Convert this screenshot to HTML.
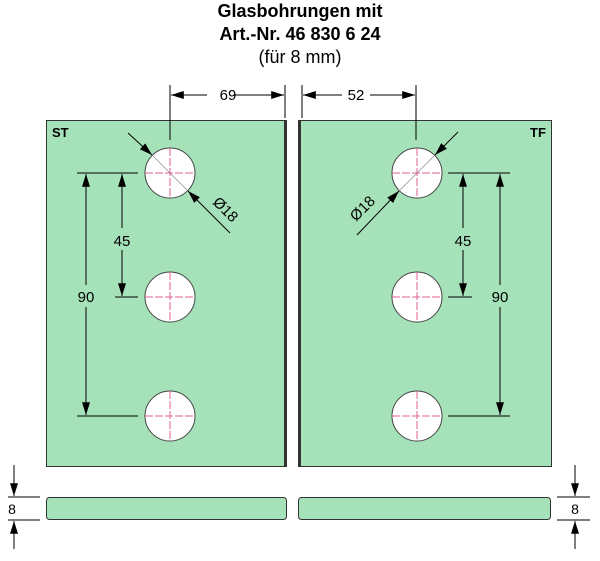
<!DOCTYPE html>
<html><head><meta charset="utf-8"><style>
body{margin:0;background:#fff}
svg{display:block;font-family:"Liberation Sans",Arial,sans-serif}
</style></head><body>
<svg width="600" height="561" viewBox="0 0 600 561" xmlns="http://www.w3.org/2000/svg">
<defs>
<marker id="b" viewBox="0 0 16 10" refX="16" refY="5" markerWidth="16" markerHeight="8" orient="auto-start-reverse" markerUnits="userSpaceOnUse"><path d="M0,0 L16,5 L0,10z" fill="#000"/></marker>
</defs>
<text x="300" y="17" text-anchor="middle" font-size="18" font-weight="bold">Glasbohrungen mit</text>
<text x="300" y="40" text-anchor="middle" font-size="18" font-weight="bold">Art.-Nr. 46 830 6 24</text>
<text x="300" y="63" text-anchor="middle" font-size="18">(für 8 mm)</text>
<rect x="46.5" y="120.5" width="240" height="346" fill="#a6e2b9" stroke="#333" stroke-width="1"/>
<line x1="285" y1="121" x2="285" y2="466" stroke="#333" stroke-width="2"/>
<rect x="298.5" y="120.5" width="253" height="346" fill="#a6e2b9" stroke="#333" stroke-width="1"/>
<line x1="300" y1="121" x2="300" y2="466" stroke="#333" stroke-width="2"/>
<text x="52" y="137" font-size="13" font-weight="bold">ST</text>
<text x="530" y="137" font-size="13" font-weight="bold">TF</text>
<g stroke="#444" fill="#fff" stroke-width="1">
<circle cx="170" cy="173" r="25"/><circle cx="170" cy="297" r="25"/><circle cx="170" cy="416" r="25"/>
<circle cx="417" cy="173" r="25"/><circle cx="417" cy="297" r="25"/><circle cx="417" cy="416" r="25"/>
</g>
<g stroke="#e0609a" stroke-width="1" stroke-dasharray="8,2">
<path d="M145 173H195M170 148V198M145 297H195M170 272V322M145 416H195M170 391V441"/>
<path d="M392 173H442M417 148V198M392 297H442M417 272V322M392 416H442M417 391V441"/>
</g>
<g stroke="#000" stroke-width="1" fill="none">
<path d="M170 85V140M285 85V118M302 85V118M416 85V140"/>
<line x1="171" y1="95" x2="207" y2="95" marker-start="url(#b)"/>
<line x1="233" y1="95" x2="284" y2="95" marker-end="url(#b)"/>
<line x1="303" y1="95" x2="342" y2="95" marker-start="url(#b)"/>
<line x1="370" y1="95" x2="415" y2="95" marker-end="url(#b)"/>
<path d="M77 173H138M115 297H138M77 416H138"/>
<line x1="122" y1="174" x2="122" y2="228" marker-start="url(#b)"/>
<line x1="122" y1="250" x2="122" y2="296" marker-end="url(#b)"/>
<line x1="86" y1="174" x2="86" y2="285" marker-start="url(#b)"/>
<line x1="86" y1="307" x2="86" y2="415" marker-end="url(#b)"/>
<path d="M448 173H510M448 297H472M448 416H510"/>
<line x1="463" y1="174" x2="463" y2="228" marker-start="url(#b)"/>
<line x1="463" y1="250" x2="463" y2="296" marker-end="url(#b)"/>
<line x1="500" y1="174" x2="500" y2="285" marker-start="url(#b)"/>
<line x1="500" y1="307" x2="500" y2="415" marker-end="url(#b)"/>
<line x1="128" y1="133" x2="152" y2="155" marker-end="url(#b)"/>
<line x1="230" y1="233" x2="188" y2="191" marker-end="url(#b)"/>
<line x1="152" y1="155" x2="188" y2="191" stroke="#888" stroke-width="0.7"/>
<line x1="458" y1="132" x2="435" y2="155" marker-end="url(#b)"/>
<line x1="357" y1="235" x2="399" y2="191" marker-end="url(#b)"/>
<line x1="435" y1="155" x2="399" y2="191" stroke="#888" stroke-width="0.7"/>
</g>
<g font-size="15">
<text x="228" y="100" text-anchor="middle">69</text>
<text x="356" y="100" text-anchor="middle">52</text>
<text x="122" y="246" text-anchor="middle">45</text>
<text x="86" y="302" text-anchor="middle">90</text>
<text x="463" y="246" text-anchor="middle">45</text>
<text x="500" y="302" text-anchor="middle">90</text>
<text transform="translate(222,213) rotate(45)" text-anchor="middle">Ø18</text>
<text transform="translate(366,212) rotate(-45)" text-anchor="middle">Ø18</text>
</g>
<rect x="46.5" y="497.5" width="240" height="22" rx="3" fill="#a6e2b9" stroke="#333"/>
<rect x="298.5" y="497.5" width="252" height="22" rx="3" fill="#a6e2b9" stroke="#333"/>
<g stroke="#000" stroke-width="1">
<path d="M8 497H40M8 520H40M557 497H590M557 520H590"/>
<line x1="14" y1="465" x2="14" y2="496" marker-end="url(#b)"/>
<line x1="14" y1="549" x2="14" y2="521" marker-end="url(#b)"/>
<line x1="575" y1="465" x2="575" y2="496" marker-end="url(#b)"/>
<line x1="575" y1="549" x2="575" y2="521" marker-end="url(#b)"/>
</g>
<text x="12" y="514" font-size="14" text-anchor="middle">8</text>
<text x="575" y="514" font-size="14" text-anchor="middle">8</text>
</svg>
</body></html>
